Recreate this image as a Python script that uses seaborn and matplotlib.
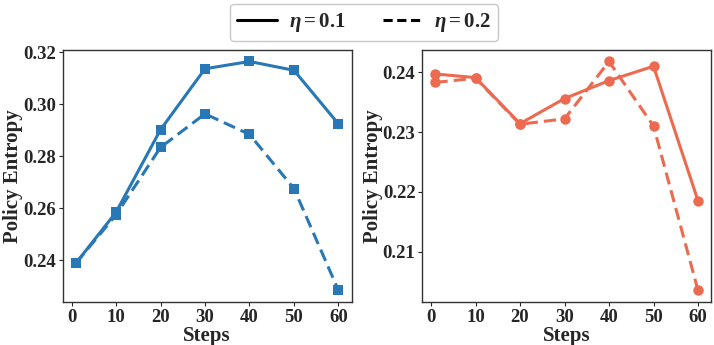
import matplotlib
matplotlib.use("Agg")
import matplotlib.pyplot as plt
from matplotlib.lines import Line2D
import seaborn as sns
import pandas as pd

steps = [1, 10, 20, 30, 40, 50, 60]
left_eta01 = [0.2390, 0.2585, 0.2902, 0.3136, 0.3164, 0.3130, 0.2924]
left_eta02 = [0.2390, 0.2575, 0.2834, 0.2963, 0.2884, 0.2676, 0.2285]
right_eta01 = [0.2397, 0.2391, 0.2314, 0.2356, 0.2386, 0.2410, 0.2185]
right_eta02 = [0.2383, 0.2390, 0.2313, 0.2322, 0.2418, 0.2310, 0.2035]
eta_labels = [r"$\eta=0.1$", r"$\eta=0.2$"]

blue = "#2878b5"
red = "#ec6a4f"

sns.set_theme(style="white")
plt.rcParams["font.family"] = ["Liberation Serif", "DejaVu Serif"]
plt.rcParams["font.weight"] = "bold"
plt.rcParams["mathtext.fontset"] = "custom"
plt.rcParams["mathtext.it"] = "Liberation Serif:italic:bold"
plt.rcParams["mathtext.rm"] = "Liberation Serif:bold"

fig, axes = plt.subplots(1, 2, figsize=(7.14, 3.45), dpi=100)


def draw_panel(ax, s1, s2, color, marker):
    df = pd.DataFrame({
        "Steps": steps * 2,
        "Entropy": s1 + s2,
        "eta": [eta_labels[0]] * len(steps) + [eta_labels[1]] * len(steps),
    })
    sns.lineplot(data=df, x="Steps", y="Entropy", style="eta",
                 style_order=eta_labels, dashes={eta_labels[0]: "", eta_labels[1]: (4, 2)},
                 color=color, marker=marker, markers={eta_labels[0]: marker, eta_labels[1]: marker},
                 markersize=7.5, markeredgewidth=0, linewidth=2.2, legend=False, ax=ax)
    ax.set_xlabel("Steps", fontsize=15, fontweight="bold", labelpad=0)
    ax.set_ylabel("Policy Entropy", fontsize=15, fontweight="bold", labelpad=0)
    ax.set_xticks([0, 10, 20, 30, 40, 50, 60])
    ax.tick_params(axis="both", labelsize=13.5, length=3, width=0.8, left=True, bottom=True, pad=2)
    for lab in ax.get_xticklabels() + ax.get_yticklabels():
        lab.set_fontweight("bold")
    for sp in ax.spines.values():
        sp.set_color("#333333")
        sp.set_linewidth(1.0)


draw_panel(axes[0], left_eta01, left_eta02, blue, "s")
axes[0].set_yticks([0.24, 0.26, 0.28, 0.30, 0.32])
axes[0].set_yticklabels(["0.24", "0.26", "0.28", "0.30", "0.32"])
draw_panel(axes[1], right_eta01, right_eta02, red, "o")
axes[1].set_yticks([0.21, 0.22, 0.23, 0.24])
axes[1].set_yticklabels(["0.21", "0.22", "0.23", "0.24"])

handles = [Line2D([0], [0], color="black", lw=2.2, ls="-"),
           Line2D([0], [0], color="black", lw=2.2, ls=(0, (3, 1.5)))]
fig.legend(handles, eta_labels, loc="upper center", ncol=2, bbox_to_anchor=(0.51, 1.02),
           frameon=True, fontsize=15, handlelength=1.9, columnspacing=1.8,
           edgecolor="#bbbbbb", fancybox=True, borderpad=0.35, handletextpad=0.55)

fig.subplots_adjust(left=0.088, right=0.996, bottom=0.125, top=0.855, wspace=0.245)
fig.savefig("out.png", dpi=100)
